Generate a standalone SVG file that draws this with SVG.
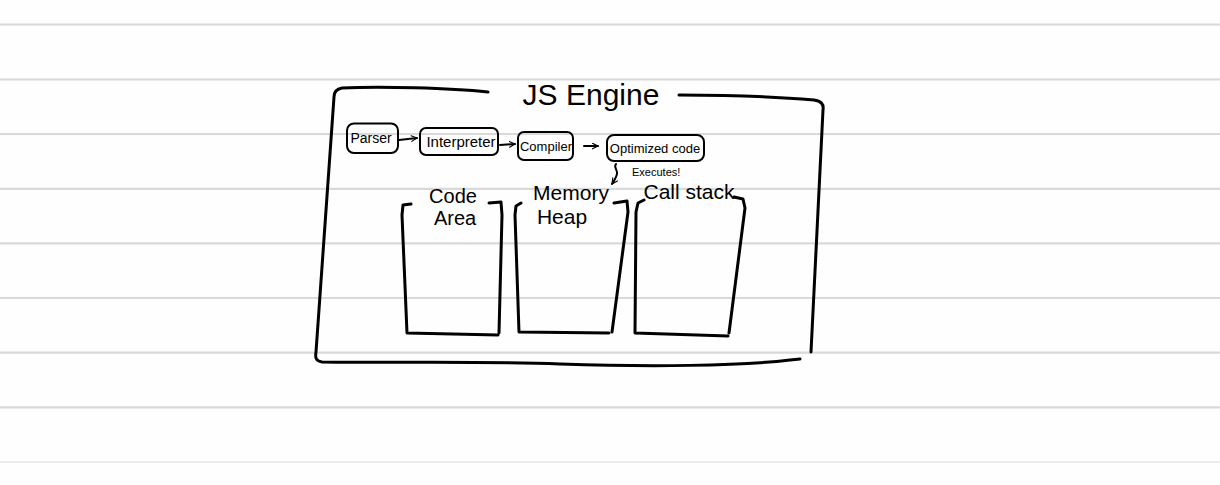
<svg xmlns="http://www.w3.org/2000/svg" width="1220" height="485" viewBox="0 0 1220 485">
<style>
.rule{stroke:#d9d9d9;stroke-width:2.2}
.ink{fill:none;stroke:#000;stroke-width:3;stroke-linecap:round;stroke-linejoin:round}
.thin{fill:none;stroke:#000;stroke-width:2;stroke-linecap:round;stroke-linejoin:round}
.t{font-family:"Liberation Sans",Arial,sans-serif;fill:#000;text-anchor:middle}
</style>
<defs>
<marker id="ah" viewBox="0 0 10 10" refX="9" refY="5" markerWidth="7" markerHeight="7" orient="auto" markerUnits="userSpaceOnUse">
<path d="M1,1 L9,5 L1,9" fill="none" stroke="#000" stroke-width="1.6" stroke-linecap="round" stroke-linejoin="round"/>
</marker>
</defs>
<rect width="1220" height="485" fill="#fefefe"/>
<g id="paper-lines">
<line class="rule" x1="0" y1="24.5" x2="1220" y2="24.5"/>
<line class="rule" x1="0" y1="79.5" x2="1220" y2="79.5"/>
<line class="rule" x1="0" y1="134" x2="1220" y2="134"/>
<line class="rule" x1="0" y1="188.8" x2="1220" y2="188.8"/>
<line class="rule" x1="0" y1="243.4" x2="1220" y2="243.4"/>
<line class="rule" x1="0" y1="298" x2="1220" y2="298"/>
<line class="rule" x1="0" y1="352.7" x2="1220" y2="352.7"/>
<line class="rule" x1="0" y1="407.3" x2="1220" y2="407.3"/>
<line x1="0" y1="462" x2="1220" y2="462" stroke="#ececec" stroke-width="2.2"/>
</g>
<g id="js-engine">
<path class="ink" d="M488,92 C450,88 380,86 342,88 C336,89 334,92 334,97 L316,352 C315,358 316,361 322,362 C420,363 480,361 560,364 C650,367 740,366 790,360 L800,359"/>
<path class="ink" d="M679,95 C730,95 780,97 814,100 C821,101 824,104 823,110 L811,352"/>
<text class="t" x="591" y="105" font-size="30">JS Engine</text>
</g>
<g id="parser">
<rect class="thin" x="347" y="123.5" width="51" height="29.5" rx="7"/>
<text class="t" x="371" y="143" font-size="14">Parser</text>
</g>
<g id="interpreter">
<rect class="thin" x="420" y="128" width="78" height="27" rx="6"/>
<text class="t" x="461" y="147" font-size="15">Interpreter</text>
</g>
<g id="compiler">
<rect class="thin" x="518" y="132" width="55" height="28" rx="6"/>
<text class="t" x="546" y="151" font-size="13">Compiler</text>
</g>
<g id="optimized-code">
<rect class="thin" x="607" y="135" width="97" height="26" rx="7"/>
<text class="t" x="655" y="153" font-size="13">Optimized code</text>
</g>
<g id="connectors">
<path class="thin" d="M399,140 L417,138" marker-end="url(#ah)"/>
<path class="thin" d="M500,145 L515,144" marker-end="url(#ah)"/>
<path class="thin" d="M584,146 L598,146" marker-end="url(#ah)"/>
<path class="thin" d="M616,164 C613,167 618,170 617,174 C616,178 614,181 612,184" marker-end="url(#ah)"/>
<text x="632" y="176" font-family="'Liberation Sans',Arial,sans-serif" font-size="11" fill="#000">Executes!</text>
</g>
<g id="code-area">
<path class="ink" d="M411,204 L403,205 L402,215 L407,333 L498,335"/>
<path class="ink" d="M489,203 L501,202 L502,215 L499,333"/>
<text class="t" x="453" y="203" font-size="20">Code</text>
<text class="t" x="455" y="225" font-size="20">Area</text>
</g>
<g id="memory-heap">
<path class="ink" d="M521,203 L516,206 L515,215 L519,332 L609,333"/>
<path class="ink" d="M614,203 L627,201 L628,212 L612,332"/>
<text class="t" x="571" y="200" font-size="21">Memory</text>
<text class="t" x="562" y="224" font-size="21">Heap</text>
</g>
<g id="call-stack">
<path class="ink" d="M644,200 L638,203 L636,212 L635,333 L728,336"/>
<path class="ink" d="M734,197 L743,199 L745,208 L729,333"/>
<text class="t" x="689" y="199" font-size="21">Call stack</text>
</g>
</svg>
